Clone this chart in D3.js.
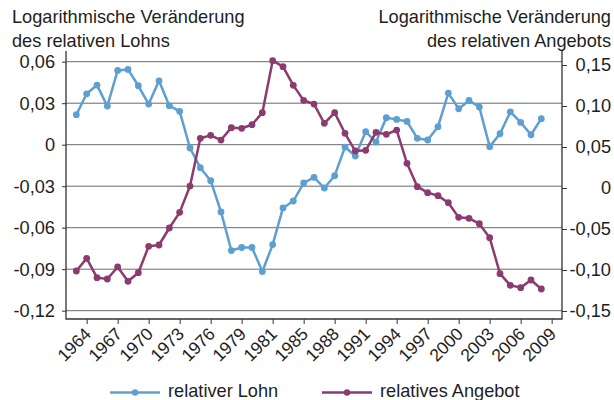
<!DOCTYPE html>
<html>
<head>
<meta charset="utf-8">
<script src="https://cdn.jsdelivr.net/npm/d3@7/dist/d3.min.js"></script>
<style>
    body { margin: 0; background: #ffffff; }
    svg text { font-family: "Liberation Sans", Arial, sans-serif; fill: #1e1e1e; }
</style>
</head>
<body>
<script>

// Years on the x-axis
var years = [1963, 1964, 1965, 1966, 1967, 1968, 1969, 1970, 1971, 1972,
             1973, 1974, 1975, 1976, 1977, 1978, 1979, 1980, 1981, 1982,
             1983, 1984, 1985, 1986, 1987, 1988, 1989, 1990, 1991, 1992,
             1993, 1994, 1995, 1996, 1997, 1998, 1999, 2000, 2001, 2002,
             2003, 2004, 2005, 2006, 2007, 2008];

// Logarithmische Veraenderung des relativen Lohns (left axis)
var relativerLohn = [0.0217, 0.0368, 0.0431, 0.0279, 0.0537, 0.0544, 0.0426, 0.0294, 0.0462, 0.0282,
                     0.0241, -0.0024, -0.0166, -0.0260, -0.0486, -0.0765, -0.0743, -0.0743, -0.0917, -0.0722,
                     -0.0457, -0.0407, -0.0277, -0.0236, -0.0313, -0.0224, -0.0017, -0.0082, 0.0094, 0.0019,
                     0.0195, 0.0183, 0.0168, 0.0046, 0.0034, 0.0130, 0.0373, 0.0260, 0.0320, 0.0272,
                     -0.0014, 0.0079, 0.0238, 0.0161, 0.0072, 0.0188];

// Logarithmische Veraenderung des relativen Angebots (right axis)
var relativesAngebot = [-0.1012, -0.0858, -0.1093, -0.1110, -0.0963, -0.1138, -0.1033, -0.0711, -0.0695, -0.0488,
                        -0.0297, 0.0024, 0.0606, 0.0642, 0.0585, 0.0736, 0.0728, 0.0772, 0.0919, 0.1553,
                        0.1480, 0.1252, 0.1069, 0.1024, 0.0789, 0.0919, 0.0667, 0.0451, 0.0459, 0.0679,
                        0.0654, 0.0707, 0.0301, 0.0016, -0.0057, -0.0093, -0.0179, -0.0358, -0.0370, -0.0435,
                        -0.0606, -0.1045, -0.1187, -0.1215, -0.1122, -0.1232];

// Tick values and labels
var xTicks = [1964, 1967, 1970, 1973, 1976, 1979, 1982, 1985, 1988, 1991, 1994, 1997, 2000, 2003, 2006, 2009];
var xTickLabels = ["1964", "1967", "1970", "1973", "1976", "1979", "1981", "1985",
                   "1988", "1991", "1994", "1997", "2000", "2003", "2006", "2009"];
var leftTicks = [-0.12, -0.09, -0.06, -0.03, 0, 0.03, 0.06];
var leftTickLabels = ["-0,12", "-0,09", "-0,06", "-0,03", "0", "0,03", "0,06"];
var rightTicks = [-0.15, -0.10, -0.05, 0, 0.05, 0.10, 0.15];
var rightTickLabels = ["-0,15", "-0,10", "-0,05", "0", "0,05", "0,10", "0,15"];

var seriesNames = ["relativer Lohn", "relatives Angebot"];
var colors = ["#5e9fd2", "#8b3b6f"];


window.onload = function() {
    drawChart();
};


/*
 * Draws the dual axis line chart
 */

function drawChart() {

    // Dimensions of the figure
    var svgWidth = 614;
    var svgHeight = 400;
    var fontSize = "18.2px";

    // Plot frame
    var left = 66;
    var right = 562;
    var top = 51;
    var bottom = 319;

    const svg = d3.select("body").append("svg")
        .attr("width", svgWidth)
        .attr("height", svgHeight);

    // Scaling functions
    const xScale = d3.scaleLinear()
        .domain([1962, 2010])
        .range([left, right]);

    const yLeft = d3.scaleLinear()
        .domain([-0.12, 0.06])
        .range([310.7, 61.7]);

    const yRight = d3.scaleLinear()
        .domain([-0.15, 0.15])
        .range([311, 65]);

    // Draw horizontal gridlines
    svg.append("g")
        .attr("class", "grid")
        .selectAll("line")
        .data(leftTicks)
        .enter()
        .append("line")
        .attr("x1", left)
        .attr("x2", right)
        .attr("y1", function(d) { return yLeft(d); })
        .attr("y2", function(d) { return yLeft(d); })
        .attr("stroke", "#6a6a6a")
        .attr("stroke-width", 1);

    // Draw left y-axis
    const leftAxis = svg.append("g")
        .attr("transform", `translate(${left}, 0)`)
        .call(d3.axisLeft(yLeft)
            .tickValues(leftTicks)
            .tickSize(4)
            .tickPadding(7)
            .tickFormat(function(d, i) { return leftTickLabels[i]; }));

    // Draw right y-axis
    const rightAxis = svg.append("g")
        .attr("transform", `translate(${right}, 0)`)
        .call(d3.axisRight(yRight)
            .tickValues(rightTicks)
            .tickSize(5)
            .tickFormat(function(d, i) { return rightTickLabels[i]; }));

    rightAxis.selectAll("text")
        .attr("x", svgWidth - 3 - right)
        .attr("text-anchor", "end");

    // Draw x-axis
    const xAxis = svg.append("g")
        .attr("transform", `translate(0, ${bottom})`)
        .call(d3.axisBottom(xScale)
            .tickValues(xTicks)
            .tickSize(5)
            .tickFormat(function(d, i) { return xTickLabels[i]; }));

    [leftAxis, rightAxis, xAxis].forEach(function(axis) {
        axis.select(".domain").remove();
        axis.selectAll("line").attr("stroke", "#333333");
        axis.selectAll("text")
            .style("font-size", fontSize)
            .attr("fill", "#1e1e1e");
    });

    xAxis.selectAll("text")
        .attr("text-anchor", "end")
        .attr("dy", null)
        .attr("y", 0)
        .style("font-size", "17.5px")
        .attr("transform", "translate(5, 16) rotate(-45)");

    // Draw the plot frame
    svg.append("path")
        .attr("d", `M${left},${top}V${bottom}H${right}V${top}`)
        .attr("fill", "none")
        .attr("stroke", "#333333")
        .attr("stroke-width", 1.3);

    // Axis titles
    var titleLeft = svg.append("text")
        .attr("x", 12)
        .attr("y", 23)
        .style("font-size", fontSize);
    titleLeft.append("tspan").attr("x", 12).text("Logarithmische Veränderung");
    titleLeft.append("tspan").attr("x", 12).attr("dy", 24).text("des relativen Lohns");

    var titleRight = svg.append("text")
        .attr("x", 611)
        .attr("y", 23)
        .attr("text-anchor", "end")
        .style("font-size", fontSize);
    titleRight.append("tspan").attr("x", 611).text("Logarithmische Veränderung");
    titleRight.append("tspan").attr("x", 611).attr("dy", 24).text("des relativen Angebots");

    // Series data
    var series = [
        { name: seriesNames[0], values: relativerLohn, scale: yLeft, color: colors[0] },
        { name: seriesNames[1], values: relativesAngebot, scale: yRight, color: colors[1] }
    ];

    series.forEach(function(s) {
        var line = d3.line()
            .x(function(d, i) { return xScale(years[i]); })
            .y(function(d) { return s.scale(d); });

        svg.append("path")
            .datum(s.values)
            .attr("d", line)
            .attr("fill", "none")
            .attr("stroke", s.color)
            .attr("stroke-width", 2.5)
            .attr("stroke-linejoin", "round");

        svg.append("g")
            .selectAll("circle")
            .data(s.values)
            .enter()
            .append("circle")
            .attr("cx", function(d, i) { return xScale(years[i]); })
            .attr("cy", function(d) { return s.scale(d); })
            .attr("r", 3.4)
            .attr("fill", s.color);
    });

    // Draw legend
    var legendX = [110, 322];
    series.forEach(function(s, i) {
        var g = svg.append("g")
            .attr("transform", `translate(${legendX[i]}, 392.5)`);
        g.append("line")
            .attr("x1", 0)
            .attr("x2", 50)
            .attr("stroke", s.color)
            .attr("stroke-width", 2.5);
        g.append("circle")
            .attr("cx", 25)
            .attr("r", 3.2)
            .attr("fill", s.color);
        g.append("text")
            .attr("x", 58)
            .attr("y", 4.5)
            .style("font-size", fontSize)
            .text(s.name);
    });
};

</script>
</body>
</html>
